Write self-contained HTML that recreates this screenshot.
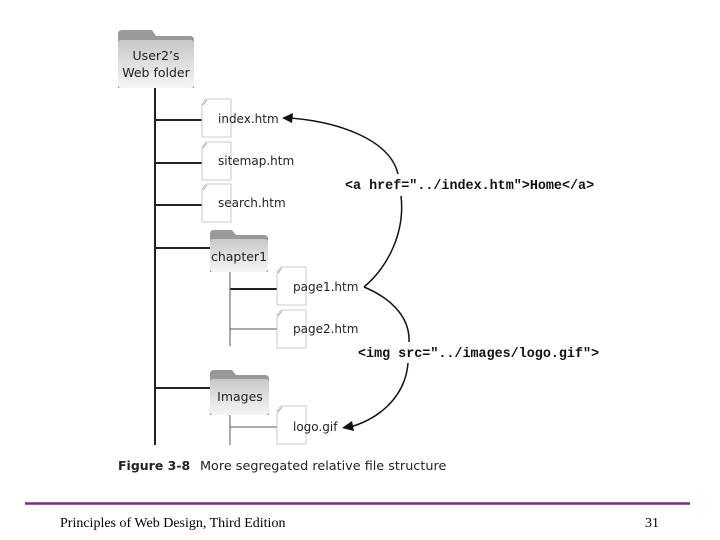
<!DOCTYPE html>
<html><head><style>
body{margin:0;width:720px;height:540px;background:#fff;overflow:hidden;position:relative}
svg{position:absolute;left:0;top:0}
</style></head><body>
<svg width="720" height="540" viewBox="0 0 720 540" font-family="'DejaVu Sans','Liberation Sans',sans-serif">
<defs>
<linearGradient id="fg" x1="0" y1="0" x2="0" y2="1"><stop offset="0" stop-color="#c8c8c8"/><stop offset="1" stop-color="#f6f6f6"/></linearGradient>
<g id="doc"><path d="M4 0H29V38H0V5Z" fill="#fff" stroke="#bbb" stroke-width="0.8"/><path d="M1 6L5 1" stroke="#999" stroke-width="0.8"/></g>
</defs>
<g stroke="#222" stroke-width="2" fill="none">
<line x1="155" y1="88" x2="155" y2="445"/>
<line x1="155" y1="120" x2="202" y2="120"/>
<line x1="155" y1="163" x2="202" y2="163"/>
<line x1="155" y1="205" x2="202" y2="205"/>
<line x1="155" y1="248" x2="210" y2="248"/>
<line x1="155" y1="388" x2="210" y2="388"/>
<line x1="230" y1="289" x2="277" y2="289"/>
</g>
<g stroke="#555" stroke-width="1" fill="none">
<line x1="230" y1="272" x2="230" y2="346"/>
<line x1="230" y1="329" x2="277" y2="329"/>
<line x1="230" y1="415" x2="230" y2="445"/>
<line x1="230" y1="427" x2="277" y2="427"/>
</g>
<path d="M118 88V34q0-4 4-4h30l4 6h34q4 0 4 4v48z" fill="#999"/>
<rect x="118" y="40" width="76" height="48" rx="3" fill="url(#fg)"/>
<text x="156" y="60" font-size="12.5" text-anchor="middle" fill="#222">User2’s</text>
<text x="156" y="77" font-size="12.5" text-anchor="middle" fill="#222">Web folder</text>
<path d="M210 272V234q0-4 4-4h18l4 5h28q4 0 4 4v33z" fill="#999"/>
<rect x="210" y="239" width="58" height="33" rx="3" fill="url(#fg)"/>
<text x="239" y="261" font-size="12.5" text-anchor="middle" fill="#222">chapter1</text>
<path d="M210 415V374q0-4 4-4h18l4 5h29q4 0 4 4v36z" fill="#999"/>
<rect x="210" y="379" width="59" height="36" rx="3" fill="url(#fg)"/>
<text x="240" y="401" font-size="12.5" text-anchor="middle" fill="#222">Images</text>
<use href="#doc" x="202" y="99"/><use href="#doc" x="202" y="142"/><use href="#doc" x="202" y="184"/>
<use href="#doc" x="277" y="267"/><use href="#doc" x="277" y="310"/><use href="#doc" x="277" y="406"/>
<g font-size="12" fill="#222">
<text x="218" y="123">index.htm</text>
<text x="218" y="165">sitemap.htm</text>
<text x="218" y="207">search.htm</text>
<text x="293" y="291">page1.htm</text>
<text x="293" y="333">page2.htm</text>
<text x="293" y="431">logo.gif</text>
</g>
<g stroke="#111" stroke-width="1.5" fill="none">
<path d="M364 287C390 265 405 230 401 196"/>
<path d="M398 174C390 140 340 122 290 118"/>
<path d="M364 287C395 300 410 320 409 342"/>
<path d="M408 363C405 400 375 420 350 427"/>
</g>
<polygon points="282,118 293,113 292,123" fill="#111"/>
<polygon points="342,428 352,421 354,431" fill="#111"/>
<g font-family="'Liberation Mono',monospace" font-weight="bold" font-size="13.4" fill="#111">
<text x="345" y="189">&lt;a href="../index.htm"&gt;Home&lt;/a&gt;</text>
<text x="358" y="357">&lt;img src="../images/logo.gif"&gt;</text>
</g>
<text x="118" y="470" font-size="12.5" font-weight="bold" fill="#222">Figure 3-8</text>
<text x="200" y="470" font-size="12.8" fill="#222">More segregated relative file structure</text>
<line x1="25" y1="503.5" x2="690" y2="503.5" stroke="#7a2a8a" stroke-width="2.5"/>
<text x="60" y="527" font-family="'Liberation Serif',serif" font-size="14" fill="#000">Principles of Web Design, Third Edition</text>
<text x="645" y="527" font-family="'Liberation Serif',serif" font-size="14" fill="#000">31</text>
</svg>
</body></html>
